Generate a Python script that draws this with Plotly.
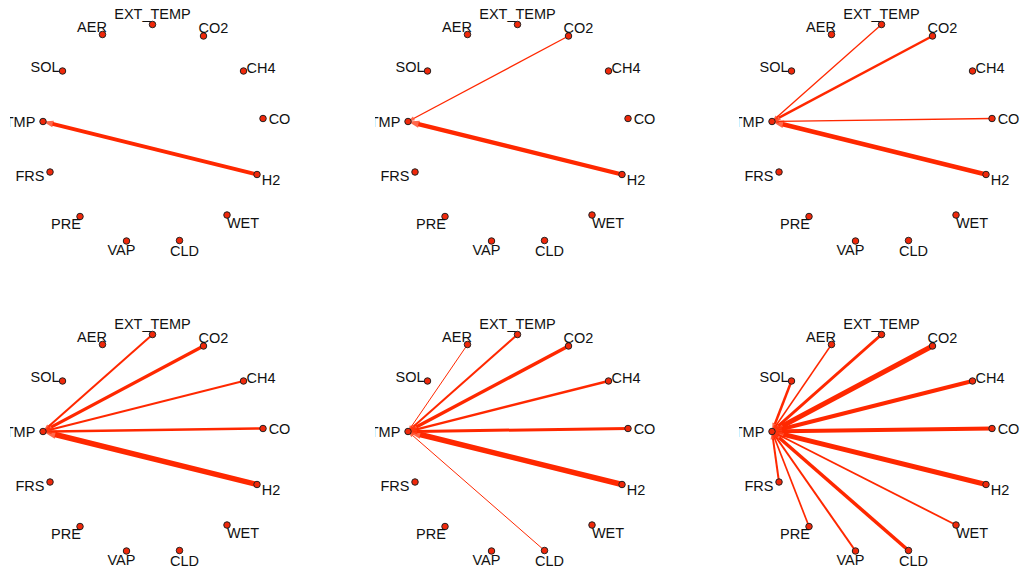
import plotly.graph_objects as go

# ---- data ----
nodes = ["TMP", "SOL", "AER", "EXT_TEMP", "CO2", "CH4", "CO", "H2",
         "WET", "CLD", "VAP", "PRE", "FRS"]
# graph layout coordinates (layout units, y grows downward)
node_x = [43, 62.5, 102.5, 152.5, 203.5, 243.5, 263, 257, 227, 179.5, 126.5, 80, 50]
node_y = [121.5, 71, 34.5, 24.5, 36, 71, 118.5, 174.5, 215, 240.5, 241, 216.5, 172]

target = "TMP"
sources = ["SOL", "AER", "EXT_TEMP", "CO2", "CH4", "CO", "H2",
           "WET", "CLD", "VAP", "PRE", "FRS"]
# edge weights (source -> TMP) for the six stages
w1 = [0, 0, 0, 0, 0, 0, 3.7, 0, 0, 0, 0, 0]
w2 = [0, 0, 0, 1.3, 0, 0, 4.3, 0, 0, 0, 0, 0]
w3 = [0, 0, 1.3, 2.5, 0, 1.3, 4.6, 0, 0, 0, 0, 0]
w4 = [0, 0, 2.0, 3.3, 2.0, 2.5, 5.5, 0, 0, 0, 0, 0]
w5 = [0, 1.0, 2.0, 3.4, 2.4, 3.0, 5.5, 0, 1.0, 0, 0, 0]
w6 = [2.5, 1.5, 3.0, 5.0, 4.0, 4.0, 5.0, 1.8, 3.5, 2.0, 1.7, 2.0]
weights = [w1, w2, w3, w4, w5, w6]

# ---- style ----
# label offset (pixels) of each label's centre from its node
label_dx = [-23, -17.5, -10.5, 0, 10, 17.5, 16.5, 14, 16, 5, -5, -14, -20]
label_dy = [0, -4, -7.5, -10.5, -8.5, -3, 0, 5, 8, 10, 8.5, 7.5, 4]
edge_color = "rgb(255,40,0)"
node_color = "rgb(240,40,10)"
font = dict(family="Liberation Sans, Arial, sans-serif", size=14.5, color="#111")
W, H = 1023, 573
panel_w, panel_h = 283, 263
col_off = [10, 375, 739]
row_off = [0, 310]
xr = [10, 10 + panel_w]
yr = [panel_h, 0]

fig = go.Figure()
pos = {n: (x, y) for n, x, y in zip(nodes, node_x, node_y)}
# text centre sits ~1.5px above the anchor for "middle center"
lab_x = [x + dx for x, dx in zip(node_x, label_dx)]
lab_y = [y + dy + 1.5 for y, dy in zip(node_y, label_dy)]

for k, wts in enumerate(weights):
    r, c = divmod(k, 3)
    ax = "" if k == 0 else str(k + 1)
    xa, ya = "x" + ax, "y" + ax
    tx, ty = pos[target]
    for s, w in zip(sources, wts):
        if w <= 0:
            continue
        sx, sy = pos[s]
        fig.add_trace(go.Scatter(
            x=[sx, tx], y=[sy, ty], mode="lines+markers",
            line=dict(color=edge_color, width=w),
            marker=dict(symbol="arrow", angleref="previous",
                        size=[0, 1.6 * w + 5], color=edge_color,
                        line=dict(width=0)),
            hoverinfo="skip", showlegend=False, xaxis=xa, yaxis=ya))
    fig.add_trace(go.Scatter(
        x=node_x, y=node_y, mode="markers",
        marker=dict(size=6.5, color=node_color, line=dict(color="#222", width=1)),
        hoverinfo="skip", showlegend=False, xaxis=xa, yaxis=ya))
    fig.add_trace(go.Scatter(
        x=lab_x, y=lab_y, mode="text", text=nodes,
        textposition="middle center", cliponaxis=True, textfont=font,
        hoverinfo="skip", showlegend=False, xaxis=xa, yaxis=ya))
    x0 = col_off[c]
    y0 = row_off[r]
    fig.layout["xaxis" + ax] = dict(
        domain=[x0 / W, (x0 + panel_w) / W], range=xr, visible=False,
        fixedrange=True, anchor=ya)
    fig.layout["yaxis" + ax] = dict(
        domain=[1 - (y0 + panel_h) / H, 1 - y0 / H], range=yr, visible=False,
        fixedrange=True, anchor=xa)

fig.update_layout(
    width=W, height=H, margin=dict(l=0, r=0, t=0, b=0),
    paper_bgcolor="white", plot_bgcolor="white", showlegend=False)

fig.write_html(
    "out.html", config={"displayModeBar": False},
    post_script="document.body.style.margin='0';document.body.style.overflow='hidden';")
